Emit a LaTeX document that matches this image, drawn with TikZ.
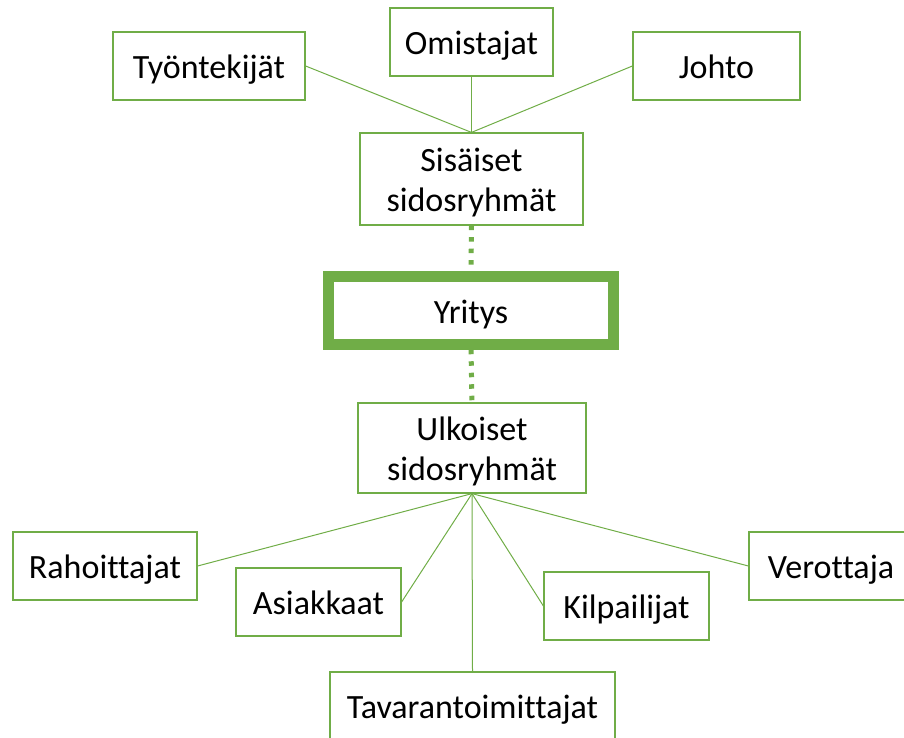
\documentclass[tikz,border=0pt]{standalone}
\usepackage{fontspec}
\setmainfont[Ligatures=NoCommon]{Carlito}
\definecolor{boxgreen}{RGB}{112,173,71}
\tikzset{
  party/.style={draw=boxgreen, line width=1.2pt, fill=white, inner sep=0pt,
    font=\fontsize{34}{40}\selectfont, align=center},
  oneline/.style={text height=30pt, text depth=5pt},
  twoline/.style={text height=70pt, text depth=4.6pt},
  link/.style={draw=boxgreen, line width=1pt},
  dotlink/.style={draw=boxgreen, line width=5pt, dash pattern=on 4.5pt off 7pt},
}
\begin{document}
\begin{tikzpicture}[x=1pt, y=-1pt]
  \useasboundingbox (0,0) rectangle (904,738);

  % Draw inner groups
  \node[party, oneline, minimum width=192pt, minimum height=68pt] (worker) at (209,66) {Työntekijät};
  \node[party, oneline, minimum width=163pt, minimum height=68pt] (owners) at (471.5,42) {Omistajat};
  \node[party, oneline, minimum width=167pt, minimum height=68pt] (mgmt) at (716.5,66) {Johto};
  \node[party, twoline, minimum width=223pt, minimum height=92pt] (internal) at (471.5,179) {Sisäiset\\sidosryhmät};

  % Draw company
  \node[party, oneline, line width=11pt, minimum width=284.5pt, minimum height=67.5pt] (firm) at (471,310.5) {Yritys};

  % Draw outer groups
  \node[party, twoline, minimum width=228pt, minimum height=90pt] (external) at (472,448) {Ulkoiset\\sidosryhmät};
  \node[party, oneline, minimum width=184pt, minimum height=68pt] (financiers) at (105,566) {Rahoittajat};
  \node[party, oneline, minimum width=165pt, minimum height=68pt] (customers) at (318.5,602) {Asiakkaat};
  \node[party, oneline, minimum width=165pt, minimum height=68pt] (rivals) at (626.5,606) {Kilpailijat};
  \node[party, oneline, minimum width=164pt, minimum height=68pt] (taxman) at (831,566) {Verottaja};
  \node[party, oneline, minimum width=285pt, minimum height=68pt] (suppliers) at (472.5,706) {Tavarantoimittajat};

  % Connect inner groups
  \draw[link] (worker.east) -- (internal.north);
  \draw[link] (owners.south) -- (internal.north);
  \draw[link] (mgmt.west) -- (internal.north);

  % Connect to company
  \draw[dotlink] (internal.south) -- (firm.north);
  \draw[dotlink] (firm.south) -- (external.north);

  % Connect outer groups
  \draw[link] (external.south) -- (financiers.east);
  \draw[link] (external.south) -- (customers.east);
  \draw[link] (external.south) -- (rivals.west);
  \draw[link] (external.south) -- (taxman.west);
  \draw[link] (external.south) -- (suppliers.north);
\end{tikzpicture}
\end{document}
